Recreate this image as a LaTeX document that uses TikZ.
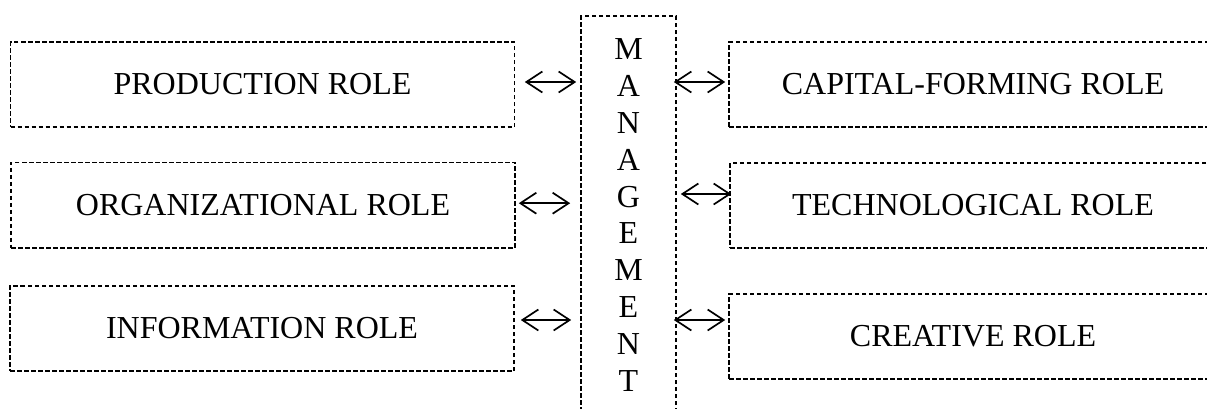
\documentclass[tikz,border=0pt]{standalone}
\usepackage{fontspec}
\setmainfont{Liberation Serif}
\usetikzlibrary{arrows.meta}
\begin{document}
\begin{tikzpicture}[x=1pt, y=-1pt,
  rolebox/.style={draw, dash pattern=on 4.5pt off 2.5pt, line width=1.6pt,
    inner sep=0pt, font=\fontsize{32}{36}\selectfont},
  letter/.style={anchor=base, inner sep=0pt, font=\fontsize{32}{36}\selectfont},
  biarrow/.style={line width=1.7pt,
    {Straight Barb[length=16pt,width=21pt]}-{Straight Barb[length=16pt,width=21pt]}}]
  \useasboundingbox (0,0) rectangle (1207,408);
  \clip (0,0) rectangle (1207,408);

  % left column of roles
  \node[rolebox, minimum width=504pt, minimum height=85pt] (prod) at (262.5,84.5) {PRODUCTION ROLE};
  \node[rolebox, minimum width=504pt, minimum height=85.5pt] (org) at (263,205.2) {ORGANIZATIONAL ROLE};
  \node[rolebox, minimum width=504pt, minimum height=85pt] (info) at (262,328.5) {INFORMATION ROLE};

  % right column of roles (running off the right edge)
  \node[rolebox, minimum width=488pt, minimum height=85pt] (cap) at (973,84.5) {CAPITAL-FORMING ROLE};
  \node[rolebox, minimum width=486pt, minimum height=85pt] (tech) at (973,205.5) {TECHNOLOGICAL ROLE};
  \node[rolebox, minimum width=488pt, minimum height=85pt] (crea) at (973,336.5) {CREATIVE ROLE};

  % central management column (open at the bottom)
  \node[rolebox, minimum width=95pt, minimum height=420pt] (mgmt) at (628.5,226) {};
  \foreach \ch [count=\i from 0] in {M,A,N,A,G,E,M,E,N,T}
    \node[letter] (L\i) at (628.5, 59.3+36.93*\i) {\ch};

  % two-way links
  \draw[biarrow, shorten <=9.5pt, shorten >=4pt]
    ([yshift=2.5pt]prod.east) -- ([yshift=2.5pt]prod.east -| mgmt.west);
  \draw[biarrow, shorten <=-3pt, shorten >=3pt]
    ([yshift=2.5pt]cap.west -| mgmt.east) -- ([yshift=2.5pt]cap.west);
  \draw[biarrow, shorten <=3pt, shorten >=10pt]
    ([yshift=2pt]org.east) -- ([yshift=2pt]org.east -| mgmt.west);
  \draw[biarrow, shorten <=4pt, shorten >=-2pt]
    ([yshift=11.5pt]tech.west -| mgmt.east) -- ([yshift=11.5pt]tech.west);
  \draw[biarrow, shorten <=6pt, shorten >=9pt]
    ([yshift=8.5pt]info.east) -- ([yshift=8.5pt]info.east -| mgmt.west);
  \draw[biarrow, shorten <=-3pt, shorten >=3pt]
    ([yshift=16.5pt]crea.west -| mgmt.east) -- ([yshift=16.5pt]crea.west);
\end{tikzpicture}
\end{document}
